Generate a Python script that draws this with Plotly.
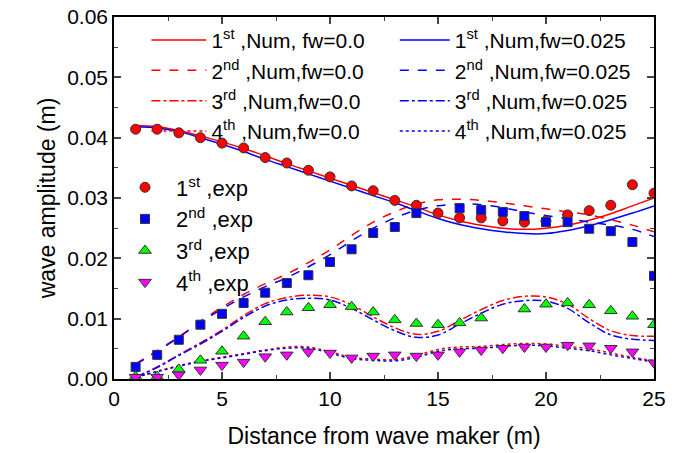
import plotly.graph_objects as go

# ---------------- data ----------------
x_num = list(range(1, 26))

num1_fw0 = [0.0420, 0.0418, 0.0412, 0.0403, 0.0393, 0.0382, 0.0370, 0.0357, 0.0345, 0.0333,
            0.0321, 0.0309, 0.0297, 0.0285, 0.0272, 0.0262, 0.0255, 0.0250, 0.0248, 0.0250,
            0.0255, 0.0263, 0.0274, 0.0287, 0.0300]
num1_fw025 = [0.0418, 0.0416, 0.0410, 0.0400, 0.0389, 0.0377, 0.0364, 0.0352, 0.0340, 0.0328,
              0.0316, 0.0304, 0.0292, 0.0279, 0.0266, 0.0256, 0.0249, 0.0244, 0.0241, 0.0241,
              0.0246, 0.0254, 0.0264, 0.0275, 0.0287]
num2_fw0 = [0.0025, 0.0047, 0.0070, 0.0096, 0.0119, 0.0140, 0.0158, 0.0174, 0.0193, 0.0214,
            0.0238, 0.0260, 0.0277, 0.0290, 0.0297, 0.0298, 0.0296, 0.0292, 0.0287, 0.0282,
            0.0277, 0.0272, 0.0264, 0.0255, 0.0244]
num2_fw025 = [0.0024, 0.0046, 0.0069, 0.0094, 0.0116, 0.0136, 0.0153, 0.0168, 0.0186, 0.0206,
              0.0229, 0.0250, 0.0267, 0.0280, 0.0287, 0.0290, 0.0289, 0.0284, 0.0277, 0.0271,
              0.0266, 0.0260, 0.0255, 0.0248, 0.0236]
num3_fw0 = [0.0003, 0.0020, 0.0040, 0.0060, 0.0081, 0.0105, 0.0125, 0.0135, 0.0139, 0.0136,
            0.0123, 0.0103, 0.0085, 0.0074, 0.0079, 0.0097, 0.0115, 0.0130, 0.0137, 0.0136,
            0.0124, 0.0100, 0.0080, 0.0072, 0.0071]
num3_fw025 = [0.0003, 0.0019, 0.0039, 0.0058, 0.0079, 0.0102, 0.0121, 0.0131, 0.0134, 0.0131,
              0.0117, 0.0098, 0.0080, 0.0069, 0.0073, 0.0091, 0.0109, 0.0124, 0.0130, 0.0129,
              0.0117, 0.0093, 0.0073, 0.0066, 0.0064]
num4_fw0 = [0.0003, 0.0013, 0.0022, 0.0030, 0.0036, 0.0042, 0.0048, 0.0053, 0.0053, 0.0045,
            0.0036, 0.0033, 0.0032, 0.0039, 0.0049, 0.0053, 0.0054, 0.0057, 0.0059, 0.0058,
            0.0054, 0.0050, 0.0043, 0.0036, 0.0030]
num4_fw025 = [0.0003, 0.0012, 0.0021, 0.0029, 0.0035, 0.0041, 0.0047, 0.0051, 0.0051, 0.0043,
              0.0034, 0.0031, 0.0030, 0.0036, 0.0046, 0.0050, 0.0051, 0.0054, 0.0056, 0.0055,
              0.0051, 0.0047, 0.0040, 0.0034, 0.0028]

x_exp = list(range(1, 26))
exp1 = [0.0414, 0.0414, 0.0408, 0.0400, 0.0391, 0.0383, 0.0367, 0.0358, 0.0346, 0.0335,
        0.0320, 0.0312, 0.0296, 0.0288, 0.0275, 0.0267, 0.0267, 0.0262, 0.0260, 0.0262,
        0.0272, 0.0279, 0.0288, 0.0322, 0.0308]
exp2 = [0.0020, 0.0040, 0.0065, 0.0090, 0.0108, 0.0126, 0.0143, 0.0159, 0.0172, 0.0194,
        0.0215, 0.0242, 0.0252, 0.0275, None, 0.0283, 0.0280, 0.0277, 0.0270, 0.0260,
        0.0260, 0.0249, 0.0245, 0.0227, 0.0171]
exp3 = [0.0004, 0.0004, 0.0016, 0.0031, 0.0046, 0.0071, 0.0095, 0.0111, 0.0118, 0.0123,
        0.0120, 0.0111, 0.0098, 0.0092, 0.0090, 0.0093, 0.0101, None, 0.0116, 0.0124,
        0.0126, 0.0123, 0.0113, 0.0104, 0.0090]
exp4 = [0.0003, 0.0003, 0.0007, 0.0015, 0.0023, 0.0028, 0.0037, 0.0040, 0.0045, 0.0043,
        0.0035, 0.0038, 0.0040, 0.0038, 0.0040, 0.0045, 0.0048, 0.0051, 0.0053, 0.0053,
        0.0056, 0.0055, 0.0051, 0.0045, 0.0027]

ords = ["1<sup>st</sup>", "2<sup>nd</sup>", "3<sup>rd</sup>", "4<sup>th</sup>"]
x_ticks = [0, 5, 10, 15, 20, 25]
y_ticks = [0.00, 0.01, 0.02, 0.03, 0.04, 0.05, 0.06]

# ---------------- figure ----------------
FONT = "Arial, 'Liberation Sans', sans-serif"
RED, BLUE = "#ff0000", "#0000ff"
dashes = ["solid", "dash", "dashdot", "dot"]
red_series = [num1_fw0, num2_fw0, num3_fw0, num4_fw0]
blue_series = [num1_fw025, num2_fw025, num3_fw025, num4_fw025]

fig = go.Figure()
for i, ys in enumerate(red_series):
    name = ords[i] + (" ,Num, fw=0.0" if i == 0 else " ,Num,fw=0.0")
    fig.add_trace(go.Scatter(x=x_num, y=ys, mode="lines", name=name, legend="legend",
                             line=dict(color=RED, width=1.5, dash=dashes[i], shape="spline")))
for i, ys in enumerate(blue_series):
    fig.add_trace(go.Scatter(x=x_num, y=ys, mode="lines", name=ords[i] + " ,Num,fw=0.025",
                             legend="legend2",
                             line=dict(color=BLUE, width=1.5, dash=dashes[i], shape="spline")))

exp_series = [exp1, exp2, exp3, exp4]
exp_sym = ["circle", "square", "triangle-up", "triangle-down"]
exp_col = ["#ff0000", "#0000ff", "#00ff00", "#ff00ff"]
exp_size = [10, 9, 11, 11]
for i, ys in enumerate(exp_series):
    fig.add_trace(go.Scatter(x=x_exp, y=ys, mode="markers", name=ords[i] + " ,exp",
                             legend="legend3",
                             marker=dict(symbol=exp_sym[i], color=exp_col[i], size=exp_size[i],
                                         line=dict(color="#333333", width=1))))

def leg(x, y, iw, fs):
    return dict(x=x, y=y, bgcolor="rgba(0,0,0,0)",
                font=dict(family=FONT, size=fs, color="black"),
                xanchor="left", yanchor="top", tracegroupgap=0, itemwidth=iw)

fig.update_layout(
    width=678, height=453,
    margin=dict(l=114, r=24, t=17, b=74),
    paper_bgcolor="white", plot_bgcolor="white",
    font=dict(family=FONT, size=21, color="black"),
    legend=leg(0.06, 0.992, 55, 21),
    legend2=leg(0.52, 0.992, 50, 21),
    legend3=leg(0.0, 0.587, 52, 22),
    xaxis=dict(range=[0, 25], tickvals=x_ticks, ticks="inside", ticklen=7, tickwidth=1.5,
               showline=True, linecolor="black", linewidth=1.5, mirror="allticks",
               showgrid=False, zeroline=False, automargin=False,
               minor=dict(dtick=2.5, ticks="inside", ticklen=4, tickwidth=1.2, showgrid=False),
               title=dict(text="Distance from wave maker (m)", font=dict(size=23), standoff=19),
               tickfont=dict(size=21)),
    yaxis=dict(range=[0, 0.06], tickvals=y_ticks, tickformat=".2f", ticks="inside", ticklen=7,
               tickwidth=1.5, showline=True, linecolor="black", linewidth=1.5, mirror="allticks",
               showgrid=False, zeroline=False, automargin=False,
               minor=dict(dtick=0.005, ticks="inside", ticklen=4, tickwidth=1.2, showgrid=False),
               title=dict(text="wave amplitude (m)", font=dict(size=23), standoff=5),
               tickfont=dict(size=21)),
)

fig.write_html("out.html")
